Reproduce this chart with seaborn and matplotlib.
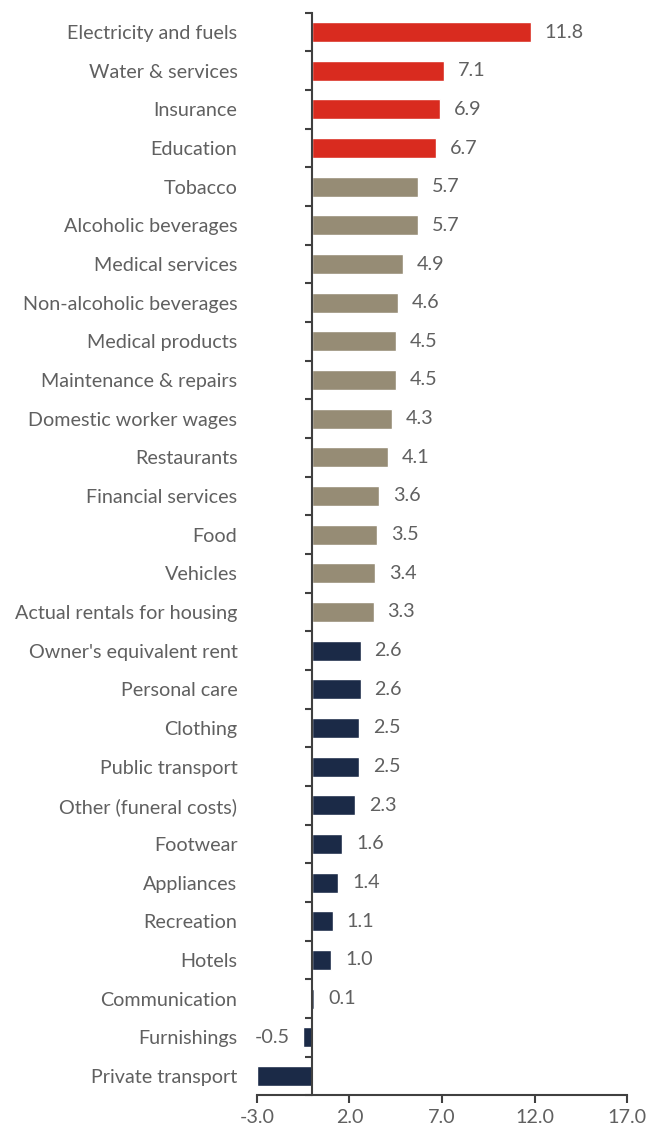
import pandas as pd
import matplotlib.pyplot as plt
import seaborn as sns
from matplotlib.ticker import FixedLocator

categories = [
    "Electricity and fuels", "Water & services", "Insurance", "Education",
    "Tobacco", "Alcoholic beverages", "Medical services", "Non-alcoholic beverages",
    "Medical products", "Maintenance & repairs", "Domestic worker wages", "Restaurants",
    "Financial services", "Food", "Vehicles", "Actual rentals for housing",
    "Owner's equivalent rent", "Personal care", "Clothing", "Public transport",
    "Other (funeral costs)", "Footwear", "Appliances", "Recreation",
    "Hotels", "Communication", "Furnishings", "Private transport",
]
values = [
    11.8, 7.1, 6.9, 6.7,
    5.7, 5.7, 4.9, 4.6,
    4.5, 4.5, 4.3, 4.1,
    3.6, 3.5, 3.4, 3.3,
    2.6, 2.6, 2.5, 2.5,
    2.3, 1.6, 1.4, 1.1,
    1.0, 0.1, -0.5, -3.0,
]
groups = ["high"] * 4 + ["mid"] * 12 + ["low"] * 12
colors = {"high": "#d92b1f", "mid": "#968c75", "low": "#1b2a47"}
x_ticks = [-3.0, 2.0, 7.0, 12.0, 17.0]

df = pd.DataFrame({"category": categories, "value": values, "group": groups})

sns.set_style("white")
plt.rcParams["font.family"] = ["Lato", "DejaVu Sans"]
plt.rcParams["axes.unicode_minus"] = False

fig = plt.figure(figsize=(6.48, 11.33), dpi=100)
ax = fig.add_axes([0.3966, 0.0333, 0.5710, 0.9555])

sns.barplot(data=df, x="value", y="category", hue="group", palette=colors,
            orient="h", dodge=False, width=0.52, legend=False, ax=ax, saturation=1)

text_color = "#606060"
fs = 14.2
# value labels (private transport label falls outside the axis range, so skip it)
for c in ax.containers:
    labels = ["" if v <= -3 else f"{v:.1f}" for v in c.datavalues]
    ax.bar_label(c, labels=labels, padding=10, fontsize=fs, color=text_color)

ax.set_xlim(-3, 17)
ax.set_ylim(27.5, -0.5)
ax.set_xticks(x_ticks)
ax.set_xticklabels([f"{t:.1f}" for t in x_ticks])
ax.set_xlabel("")
ax.set_ylabel("")

for s in ["top", "right"]:
    ax.spines[s].set_visible(False)
ax.spines["left"].set_position(("data", 0))
for s in ["left", "bottom"]:
    ax.spines[s].set_color("#404040")
    ax.spines[s].set_linewidth(1.5)

ax.yaxis.set_minor_locator(FixedLocator([i + 0.5 for i in range(-1, 28)]))
ax.tick_params(axis="y", which="major", length=0, pad=54, labelsize=fs,
               labelcolor=text_color)
ax.tick_params(axis="y", which="minor", left=True, length=5, width=1.5, color="#404040")
ax.tick_params(axis="x", bottom=True, length=6, width=1.5, color="#404040",
               labelsize=fs, labelcolor=text_color, pad=4)

fig.savefig("out.png", dpi=100)
